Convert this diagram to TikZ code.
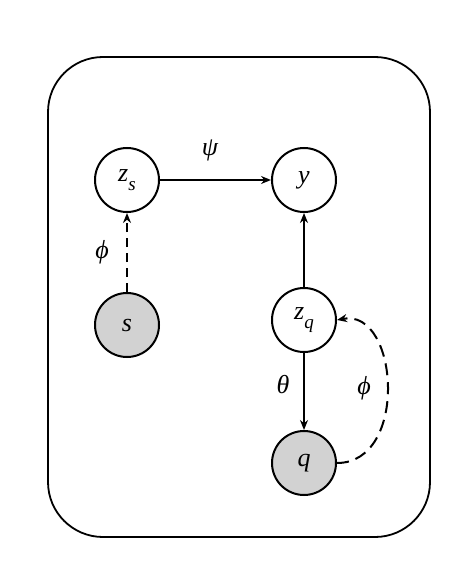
\documentclass[tikz,border=0pt]{standalone}
\usepackage{fontspec}
\setmainfont{Liberation Serif}
\usetikzlibrary{arrows.meta}
\newcommand{\sub}[1]{\raisebox{-0.32em}{\fontsize{19}{22}\selectfont #1}}
\begin{document}
\begin{tikzpicture}[x=1pt,y=-1pt,
  var/.style={circle,draw,line width=2pt,minimum size=64pt,inner sep=0pt,font=\fontsize{26}{30}\selectfont\itshape},
  obs/.style={var,fill=gray!35},
  edge/.style={line width=2pt,-{Stealth[length=10pt,width=8pt]}},
  lbl/.style={inner sep=0pt,font=\fontsize{26}{30}\selectfont\itshape}]
\useasboundingbox (0,0) rectangle (470,583);
\draw[line width=1.8pt,rounded corners=55pt] (48,57) rectangle (430,537);
\node[var] (zs) at (127,180) {z\sub{s}};
\node[var] (y) at (304,180) {y};
\node[obs] (s) at (127,325) {s};
\node[var] (zq) at (304,320) {z\sub{q}};
\node[obs] (q) at (304,463) {q};
\draw[edge] (zs) -- (y);
\draw[edge,dash pattern=on 9pt off 6pt] (s) -- (zs);
\draw[edge] (zq) -- (y);
\draw[edge] (zq) -- (q);
\draw[edge,dash pattern=on 12pt off 7pt] (q.east) .. controls +(72,0) and +(62,-12) .. (zq.east);
\node[lbl] (psi) at (210,150) {ψ};
\node[lbl] (phi1) at (102,252) {ϕ};
\node[lbl] (theta) at (283,385) {θ};
\node[lbl] (phi2) at (364,388) {ϕ};
\end{tikzpicture}
\end{document}
